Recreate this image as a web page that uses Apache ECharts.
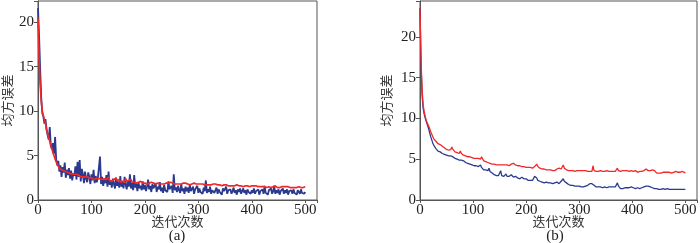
<!DOCTYPE html>
<html>
<head>
<meta charset="utf-8">
<script src="https://cdn.jsdelivr.net/npm/echarts@6/dist/echarts.min.js"></script>
<style>
  html, body { margin: 0; padding: 0; background: #fff; }
  #chart { width: 700px; height: 243px; }
</style>
</head>
<body>
<div id="chart"></div>
<script>
// iteration step between stored samples
const step = 2

// (a) blue: noisy curve
const blueA = [
  21.6, 18.5, 14.8, 11.6, 9.8, 9.4, 8.6, 9.1, 7.9, 7.3,
  6.8, 8.2, 6.1, 5.7, 6.4, 5.2, 7.1, 4.6, 3.9, 4.4,
  3.2, 3.9, 2.6, 3.7, 3.1, 4.2, 2.5, 3.4, 2.8, 3.6,
  2.4, 3.3, 2.2, 3.0, 2.7, 3.8, 2.3, 4.3, 2.6, 4.5,
  2.1, 3.5, 2.9, 1.9, 3.2, 2.4, 2.0, 3.1, 2.6, 1.8,
  2.9, 2.2, 3.4, 1.9, 2.7, 2.0, 2.5, 2.3, 4.9, 1.8,
  2.6, 1.6, 2.3, 1.9, 2.8, 1.5, 3.2, 1.7, 2.2, 1.4,
  2.4, 1.8, 1.3, 2.5, 1.6, 2.1, 1.4, 2.7, 1.5, 2.0,
  1.3, 2.6, 1.7, 1.2, 2.2, 1.5, 2.9, 1.3, 1.9, 1.1,
  2.8, 1.4, 1.8, 1.0, 2.0, 1.3, 1.6, 1.1, 2.1, 1.2,
  1.7, 1.0, 1.5, 2.3, 1.2, 1.6, 0.9, 1.8, 1.3, 1.1,
  1.9, 0.9, 1.5, 1.2, 2.0, 1.0, 1.4, 0.8, 1.7, 1.1,
  1.3, 0.9, 2.1, 1.2, 1.0, 1.6, 0.8, 2.9, 1.1, 1.4,
  0.9, 1.6, 1.1, 0.8, 1.8, 1.0, 1.3, 0.7, 1.5, 1.0,
  1.4, 0.8, 1.7, 1.0, 0.9, 1.5, 0.7, 1.2, 1.0, 1.6,
  0.8, 1.3, 0.9, 1.1, 0.7, 1.4, 1.0, 2.2, 0.8, 1.2,
  0.9, 1.5, 0.7, 1.1, 1.3, 0.8, 1.0, 1.4, 0.7, 1.2,
  0.9, 1.1, 0.6, 1.3, 1.0, 0.8, 1.5, 0.7, 1.1, 0.9,
  1.2, 0.7, 1.0, 1.4, 0.8, 1.1, 0.6, 1.2, 0.9, 1.3,
  0.7, 1.0, 1.3, 0.8, 1.1, 0.6, 1.2, 0.9, 1.0, 0.7,
  1.1, 0.8, 1.3, 0.7, 1.0, 0.9, 1.2, 0.6, 1.0, 0.8,
  1.2, 0.7, 1.6, 0.8, 1.0, 0.6, 1.1, 0.9, 1.3, 0.7,
  1.0, 1.6, 0.7, 1.1, 0.8, 1.2, 0.6, 1.0, 0.9, 1.3,
  0.7, 1.1, 0.8, 1.2, 0.6, 1.0, 0.9, 1.1, 0.7, 1.2,
  0.8, 1.0, 0.6, 1.1, 0.9, 0.7, 1.2, 0.8, 1.0, 0.7,
  0.9
]

// (a) red
const redA = [
  20.5, 16.0, 13.0, 11.2, 10.0, 9.5, 9.0, 8.6, 8.0, 7.5,
  7.0, 6.6, 6.1, 5.8, 5.3, 5.0, 4.6, 4.3, 4.0, 3.8,
  3.6, 3.5, 3.4, 3.5, 3.3, 3.4, 3.2, 3.3, 3.1, 3.2,
  3.0, 3.1, 2.9, 3.0, 2.9, 2.8, 2.9, 2.7, 2.8, 2.7,
  2.6, 2.7, 2.6, 2.5, 2.6, 2.5, 2.6, 2.4, 2.5, 2.4,
  2.5, 2.4, 2.3, 2.5, 2.4, 2.3, 2.4, 2.3, 2.4, 2.2,
  2.3, 2.2, 2.4, 2.2, 2.3, 2.1, 2.6, 2.2, 2.3, 2.1,
  2.2, 2.3, 2.1, 2.5, 2.2, 2.1, 2.3, 2.0, 2.2, 2.1,
  2.2, 2.0, 2.4, 2.1, 2.0, 2.2, 2.1, 2.3, 2.0, 2.1,
  2.0, 2.2, 1.9, 2.1, 2.0, 1.9, 2.1, 2.0, 1.9, 2.0,
  1.9, 2.0, 1.8, 2.0, 1.9, 1.9, 2.0, 1.8, 1.9, 2.0,
  1.8, 1.9, 1.9, 2.0, 1.8, 1.9, 1.8, 2.0, 1.8, 1.9,
  1.9, 1.8, 1.9, 1.8, 2.0, 1.8, 1.9, 2.1, 1.8, 1.9,
  1.8, 1.9, 1.8, 1.9, 1.8, 1.7, 1.9, 1.8, 1.9, 1.7,
  1.8, 1.9, 1.7, 1.8, 1.8, 1.7, 1.9, 1.7, 1.8, 1.7,
  1.8, 1.7, 1.8, 1.7, 1.8, 1.8, 1.7, 1.8, 1.7, 1.8,
  1.7, 1.8, 1.7, 1.7, 1.8, 1.6, 1.8, 1.7, 1.7, 1.6,
  1.7, 1.7, 1.6, 1.8, 1.7, 1.6, 1.7, 1.7, 1.6, 1.7,
  1.6, 1.7, 1.6, 1.7, 1.6, 1.6, 1.7, 1.6, 1.6, 1.7,
  1.6, 1.6, 1.5, 1.7, 1.6, 1.5, 1.6, 1.6, 1.5, 1.6,
  1.6, 1.5, 1.6, 1.5, 1.6, 1.5, 1.5, 1.6, 1.5, 1.5,
  1.5, 1.6, 1.5, 1.5, 1.4, 1.6, 1.5, 1.5, 1.4, 1.5,
  1.5, 1.4, 1.6, 1.5, 1.4, 1.5, 1.4, 1.5, 1.5, 1.4,
  1.5, 1.4, 1.5, 1.4, 1.5, 1.4, 1.4, 1.5, 1.4, 1.5,
  1.4, 1.5, 1.4, 1.4, 1.5, 1.4, 1.4, 1.5, 1.4, 1.4,
  1.5
]

// (b) blue
const blueB = [
  23.5, 16.5, 12.8, 11.2, 10.5, 10.0, 9.6, 9.2, 8.8, 8.3,
  7.8, 7.4, 7.0, 6.7, 6.5, 6.3, 6.2, 6.0, 5.9, 5.9,
  5.8, 5.7, 5.7, 5.6, 5.5, 5.5, 5.5, 5.4, 5.3, 5.4,
  5.2, 5.3, 5.2, 5.1, 5.1, 5.0, 5.1, 4.9, 5.0, 4.9,
  4.8, 4.8, 4.7, 4.6, 4.6, 4.5, 4.5, 4.4, 4.4, 4.3,
  4.3, 4.2, 4.1, 4.2, 4.0, 4.1, 4.0, 4.3, 4.0, 3.8,
  3.7, 3.6, 3.7, 3.5, 3.6, 3.9, 3.5, 3.4, 3.3, 3.2,
  3.1, 3.1, 3.0, 3.0, 3.0, 2.9, 3.6, 3.0, 3.0, 2.9,
  3.0, 3.2, 2.9, 2.9, 2.9, 2.8, 3.1, 2.9, 2.8, 2.8,
  2.9, 2.8, 2.7, 2.7, 2.6, 2.7, 2.8, 2.6, 2.6, 2.5,
  2.6, 2.5, 2.4, 2.5, 2.4, 2.3, 2.4, 2.5, 2.9, 3.0,
  2.7, 2.4, 2.3, 2.3, 2.2, 2.2, 2.2, 2.1, 2.1, 2.2,
  2.1, 2.1, 2.0, 2.1, 2.1, 2.0, 2.0, 2.1, 2.0, 2.2,
  2.1, 2.0, 2.2, 2.3, 2.4, 2.6, 2.3, 2.2, 2.1, 2.0,
  1.9, 1.9, 1.8, 1.8, 1.8, 1.7, 1.7, 1.7, 1.7, 1.7,
  1.7, 1.6, 1.6, 1.7, 1.6, 1.6, 1.7, 1.7, 1.8, 1.9,
  2.0, 2.1, 2.0, 1.9, 1.8, 1.7, 1.6, 1.6, 1.6, 1.6,
  1.6, 1.6, 1.5, 1.6, 1.6, 1.6, 1.5, 1.6, 1.6, 1.6,
  1.6, 1.6, 1.6, 1.7, 1.6, 1.8, 2.1, 1.7, 1.5, 1.4,
  1.4, 1.4, 1.4, 1.5, 1.4, 1.5, 1.4, 1.5, 1.5, 1.6,
  1.7, 1.5, 1.5, 1.4, 1.4, 1.5, 1.4, 1.4, 1.4, 1.5,
  1.5, 1.6, 1.6, 1.7, 1.8, 1.7, 1.6, 1.6, 1.5, 1.5,
  1.5, 1.4, 1.4, 1.4, 1.3, 1.3, 1.3, 1.3, 1.3, 1.4,
  1.3, 1.3, 1.3, 1.4, 1.3, 1.3, 1.3, 1.3, 1.4, 1.3,
  1.3, 1.3, 1.3, 1.3, 1.2, 1.3, 1.3, 1.3, 1.3, 1.3,
  1.3
]

// (b) red
const redB = [
  23.5, 17.0, 13.5, 11.6, 10.8, 10.2, 9.7, 9.4, 9.2, 8.8,
  8.4, 8.1, 7.8, 7.5, 7.3, 7.2, 7.0, 6.9, 7.1, 6.8,
  6.7, 6.6, 6.5, 6.4, 6.3, 6.2, 6.1, 6.1, 6.0, 6.2,
  6.5, 6.2, 6.0, 5.9, 5.9, 5.8, 5.8, 5.7, 6.0, 5.7,
  5.6, 5.5, 5.5, 5.4, 5.4, 5.3, 5.3, 5.3, 5.2, 5.2,
  5.2, 5.1, 5.1, 5.1, 5.0, 5.1, 5.0, 5.0, 5.3, 5.4,
  4.8, 4.7, 4.7, 4.6, 4.6, 4.5, 4.5, 4.5, 4.4, 4.4,
  4.4, 4.4, 4.3, 4.3, 4.3, 4.3, 4.3, 4.4, 4.3, 4.3,
  4.3, 4.5, 4.3, 4.3, 4.2, 4.3, 4.4, 4.6, 4.5, 4.3,
  4.3, 4.2, 4.2, 4.3, 4.2, 4.2, 4.1, 4.2, 4.1, 4.1,
  4.0, 4.1, 4.0, 4.0, 4.0, 3.9, 3.9, 4.0, 4.1, 4.3,
  4.4, 4.1, 3.9, 3.9, 3.8, 3.8, 3.8, 3.8, 3.7, 3.7,
  3.7, 3.7, 3.8, 3.7, 3.7, 3.6, 3.7, 3.6, 3.7, 3.8,
  3.7, 3.9, 3.7, 3.8, 4.0, 4.3, 3.9, 3.7, 3.7, 3.6,
  3.6, 3.6, 3.6, 3.5, 3.6, 3.6, 3.5, 3.6, 3.6, 3.5,
  3.6, 3.5, 3.6, 3.5, 3.6, 3.5, 3.6, 3.6, 3.5, 3.6,
  3.5, 3.6, 3.5, 4.2, 3.6, 3.5, 3.5, 3.6, 3.5, 3.6,
  3.6, 3.5, 3.5, 3.6, 3.5, 3.5, 3.6, 3.5, 3.5, 3.5,
  3.5, 3.6, 3.5, 3.5, 3.5, 3.7, 3.9, 3.6, 3.5, 3.5,
  3.5, 3.6, 3.5, 3.6, 3.5, 3.6, 3.6, 3.5, 3.6, 3.6,
  3.6, 3.5, 3.5, 3.6, 3.5, 3.4, 3.4, 3.5, 3.5, 3.5,
  3.5, 3.6, 3.7, 3.8, 3.7, 3.6, 3.7, 3.6, 3.7, 3.7,
  3.6, 3.6, 3.5, 3.3, 3.3, 3.3, 3.3, 3.3, 3.4, 3.4,
  3.3, 3.4, 3.3, 3.4, 3.4, 3.4, 3.4, 3.3, 3.4, 3.4,
  3.4, 3.5, 3.4, 3.4, 3.5, 3.4, 3.4, 3.5, 3.6, 3.4,
  3.3
]

const xTicks = [0, 100, 200, 300, 400, 500]
const yTicks = [0, 5, 10, 15, 20]
const xName = '迭代次数'
const yName = '均方误差'
const panelLabels = ['(a)', '(b)']

const BLUE = '#2b3a8f'
const RED = '#f0282a'
const AXIS = '#555'
const numFont = { fontFamily: 'Liberation Serif', fontSize: 15, color: '#222' }
const cjkFont = { fontFamily: 'Noto Sans CJK SC', fontSize: 13, color: '#333' }

const toPairs = arr => arr.map((v, i) => [i * step, v])

const makeX = gridIndex => ({
  type: 'value',
  gridIndex,
  min: 0,
  max: 522,
  interval: 100,
  name: xName,
  nameLocation: 'middle',
  nameGap: 15,
  nameMoveOverlap: false,
  nameTextStyle: cjkFont,
  axisLine: { show: true, onZero: false, lineStyle: { color: AXIS, width: 1 } },
  axisTick: { show: true, length: 3, lineStyle: { color: AXIS } },
  axisLabel: {
    ...numFont,
    margin: 3,
    formatter: v => (xTicks.includes(v) ? String(v) : ''),
  },
  splitLine: { show: false },
})

const makeY = (gridIndex, max, gap) => ({
  type: 'value',
  gridIndex,
  min: 0,
  max,
  interval: 5,
  name: yName,
  nameLocation: 'middle',
  nameGap: gap,
  nameMoveOverlap: false,
  nameRotate: 90,
  nameTextStyle: cjkFont,
  axisLine: { show: true, lineStyle: { color: AXIS, width: 1 } },
  axisTick: { show: true, length: 4, lineStyle: { color: AXIS } },
  axisLabel: {
    ...numFont,
    margin: 4,
    formatter: v => (yTicks.includes(v) ? String(v) : ''),
  },
  splitLine: { show: false },
})

const line = (data, color, width, idx, z) => ({
  type: 'line',
  xAxisIndex: idx,
  yAxisIndex: idx,
  data: toPairs(data),
  showSymbol: false,
  symbol: 'none',
  animation: false,
  z,
  lineStyle: { color, width },
})

const chart = echarts.init(document.getElementById('chart'))
chart.setOption({
  backgroundColor: '#fff',
  animation: false,
  grid: [
    { left: 37, top: 1, width: 280, height: 199, show: true, borderColor: AXIS, borderWidth: 1 },
    { left: 420, top: 1, width: 278, height: 199, show: true, borderColor: AXIS, borderWidth: 1 },
  ],
  xAxis: [makeX(0), makeX(1)],
  yAxis: [makeY(0, 22.4, 24), makeY(1, 24.4, 27)],
  series: [
    line(blueA, BLUE, 1.8, 0, 2),
    line(redA, RED, 1.7, 0, 3),
    line(blueB, BLUE, 1.3, 1, 2),
    line(redB, RED, 1.3, 1, 3),
  ],
  graphic: [
    { type: 'text', x: 177, y: 229, style: { text: panelLabels[0], align: 'center', fill: '#222', font: '15px "Liberation Serif"' } },
    { type: 'text', x: 555, y: 229, style: { text: panelLabels[1], align: 'center', fill: '#222', font: '15px "Liberation Serif"' } },
  ],
})
</script>
</body>
</html>
